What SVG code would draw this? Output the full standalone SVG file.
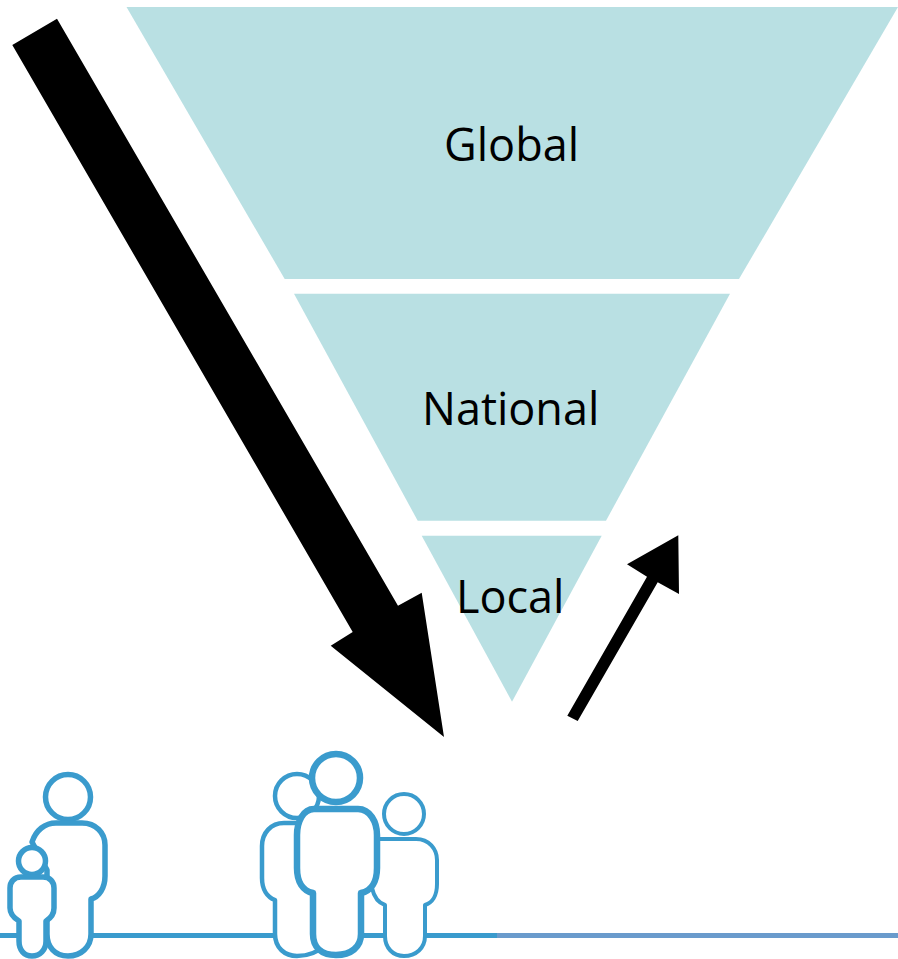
<svg xmlns="http://www.w3.org/2000/svg" width="898" height="959" viewBox="0 0 898 959">
<style>
.tier{fill:#b9e0e3}
.lbl{font-family:"Open Sans","Liberation Sans",sans-serif;font-size:45px;fill:#000}
.arrow{fill:#000}
.fig{fill:#fff;stroke:#3a9bcd;stroke-linejoin:round}
</style>
<rect width="898" height="959" fill="#fff"/>
<g id="tier-global"><polygon class="tier" points="126.500,7 898,7 739,279 284.700,279"/><text class="lbl" x="444" y="161">Global</text></g>
<g id="tier-national"><polygon class="tier" points="294,293.700 730,293.700 606,520.700 417.700,520.700"/><text class="lbl" x="422" y="425">National</text></g>
<g id="tier-local"><polygon class="tier" points="421.700,535.700 601.700,535.700 512,701.700"/><text class="lbl" x="456" y="613">Local</text></g>
<g id="connectors">
<polygon class="arrow" points="12.300,45 57,18.700 398,605.700 421.700,592.700 444,737 330.700,645.700 352.700,632"/>
<polygon class="arrow" points="567.300,715.700 577.700,721 657.700,582.300 679,594 678.300,535.300 627,564.300 647,576.700"/>
</g>
<g id="ground">
<rect x="0" y="933" width="498" height="5" fill="#3a9bcd"/>
<rect x="497" y="933" width="401" height="5" fill="#6a9bcc"/>
</g>
<g id="adult">
<circle class="fig" cx="68" cy="797" r="22.500" stroke-width="5.500"/>
<path class="fig" stroke-width="5.500" d="M32 842C36 830 45 823 56 823H82C96 823 105 833 105 845V876C105 888 99 897 91 899V934C91 947 81 956 68 956C55 956 47 947 47 934V870Z"/>
</g>
<g id="child">
<circle class="fig" cx="32" cy="861" r="13.500" stroke-width="5.500"/>
<path class="fig" stroke-width="5.500" d="M21 877H43C50 877 54 882 54 888V908C54 914 51 918 46 921V941C46 950 40 956 32 956C24 956 19 950 19 941V921C14 918 10 914 10 908V888C10 882 14 877 21 877Z"/>
</g>
<g id="woman">
<circle class="fig" cx="297" cy="796" r="22" stroke-width="4.500"/>
<path class="fig" stroke-width="4.500" d="M322 823H284C271 823 262 833 262 846V878C262 889 267 897 275 900V934C275 948 285 956 297 956C309 956 318 952 325 945V823Z"/>
</g>
<g id="boy">
<circle class="fig" cx="404" cy="814" r="20" stroke-width="4"/>
<path class="fig" stroke-width="4" d="M375 839H416C429 839 437 849 437 860V884C437 896 432 903 425 905V936C425 948 416 956 404 956C393 956 385 948 385 936V905C379 903 374 897 372 888Z"/>
</g>
<g id="father">
<circle class="fig" cx="336" cy="778" r="24" stroke-width="6.500"/>
<path class="fig" stroke-width="6.500" d="M314 809H358C370 809 377 822 377 835V868C377 882 371 891 361 893V934C361 947 351 955 336 955C321 955 313 947 313 934V893C303 891 297 882 297 868V835C297 822 303 809 314 809Z"/>
</g>
</svg>
